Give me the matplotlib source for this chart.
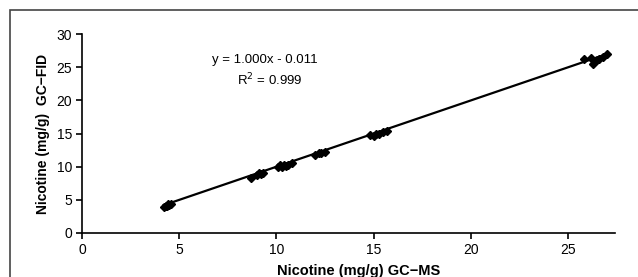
import matplotlib
matplotlib.use("Agg")
import matplotlib.pyplot as plt
import numpy as np
from matplotlib.patches import Rectangle

plt.rcParams['font.family'] = ['Liberation Sans', 'DejaVu Sans']

# GC-MS vs GC-FID nicotine results (mg/g)
gc_ms = [4.2, 4.3, 4.35, 4.4, 4.5, 4.6,
         8.7, 9.0, 9.1, 9.2, 9.3,
         10.1, 10.2, 10.3, 10.4, 10.5, 10.6, 10.8,
         12.0, 12.2, 12.3, 12.5,
         14.8, 15.0, 15.1, 15.3, 15.5, 15.7,
         25.8, 26.2, 26.3, 26.4, 26.5, 26.6, 26.8, 27.0]
gc_fid = [3.9, 4.1, 4.0, 4.3, 4.2, 4.3,
          8.3, 8.8, 9.0, 8.9, 9.0,
          10.0, 10.2, 9.9, 10.3, 10.1, 10.2, 10.5,
          11.8, 12.0, 12.1, 12.2,
          14.8, 14.7, 15.0, 14.9, 15.2, 15.4,
          26.2, 26.4, 25.5, 26.0, 26.1, 26.3, 26.5, 27.0]
slope, intercept = 1.000, -0.011
x_ticks = [0, 5, 10, 15, 20, 25]
y_ticks = [0, 5, 10, 15, 20, 25, 30]

fig = plt.figure(figsize=(6.38, 2.77), dpi=100)
ax = fig.add_axes([0.1285, 0.159, 0.835, 0.718])

# outer frame (cut off at right and bottom like the source)
fig.add_artist(Rectangle((10 / 638, -0.2), 1.2, 1.2 - 10 / 277,
                         transform=fig.transFigure, fill=False,
                         edgecolor='#444444', linewidth=1.2))

xs = np.array([min(gc_ms), max(gc_ms)])
ax.plot(xs, slope * xs + intercept, color='black', linewidth=1.6, zorder=2)
ax.plot(gc_ms, gc_fid, linestyle='none', marker='D', markersize=4,
        color='black', zorder=3)

ax.set_xlim(0, 27.4)
ax.set_ylim(0, 30)
ax.set_xticks(x_ticks)
ax.set_yticks(y_ticks)
for s in ['top', 'right']:
    ax.spines[s].set_visible(False)
for s in ['left', 'bottom']:
    ax.spines[s].set_linewidth(1.2)
ax.tick_params(direction='out', length=4, width=1.2, labelsize=10, pad=3)

ax.set_xlabel('Nicotine (mg/g) GC\u2212MS', fontsize=10.5, fontweight='bold')
ax.xaxis.set_label_coords(0.52, -0.155)
ax.xaxis.label.set_va('top')
ax.set_ylabel('Nicotine (mg/g)  GC\u2212FID', fontsize=10, fontweight='bold', labelpad=5)

ax.text(0.343, 0.87, 'y = 1.000x - 0.011', transform=ax.transAxes,
        ha='center', va='center', fontsize=9.5)
ax.text(0.353, 0.77, 'R$^2$ = 0.999', transform=ax.transAxes,
        ha='center', va='center', fontsize=9.5)

fig.savefig('out.png', dpi=100)
